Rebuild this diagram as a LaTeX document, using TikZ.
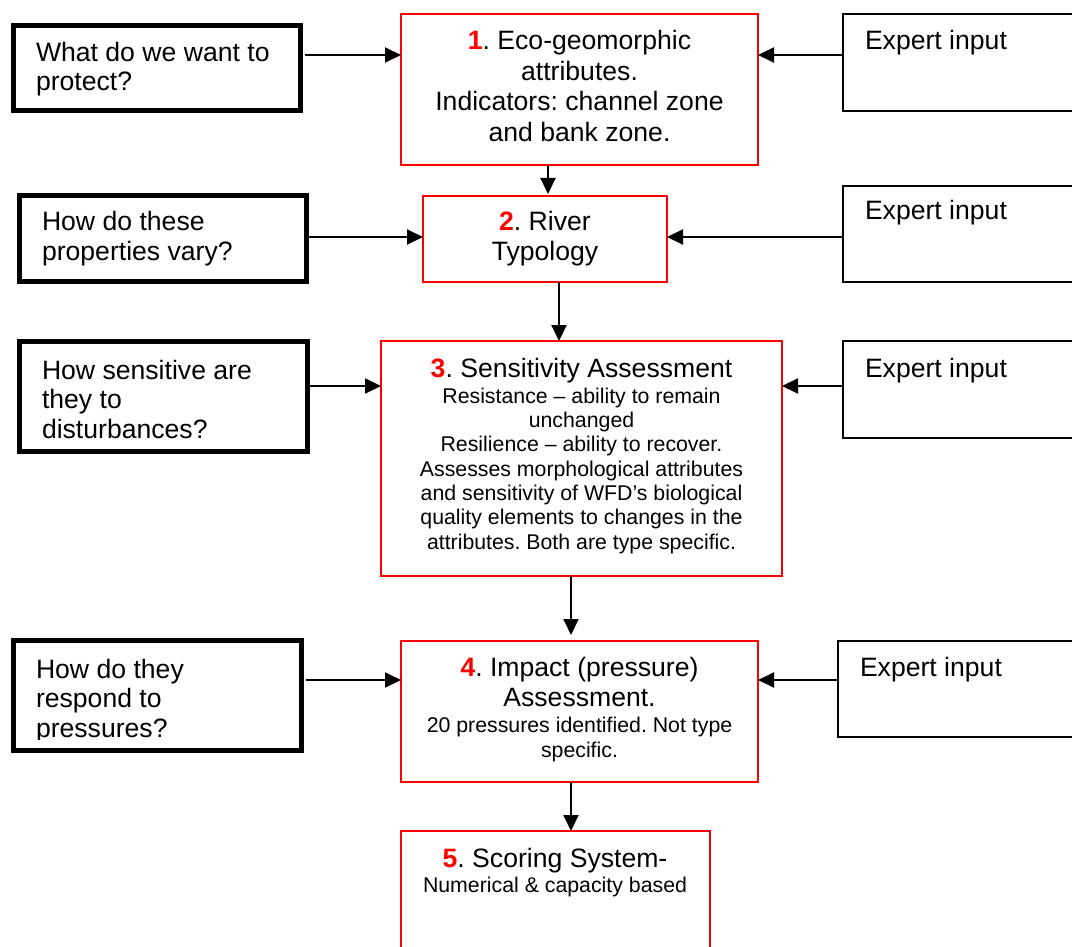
\documentclass[tikz,border=0pt]{standalone}
\usepackage{fontspec}
\setmainfont{Liberation Sans}
\usetikzlibrary{arrows.meta}
\frenchspacing
\newcommand{\rnum}[1]{\textcolor{red}{\textbf{#1}}}
\tikzset{
  lbox/.style={draw=black, line width=5pt, inner sep=0pt, outer sep=0pt},
  ebox/.style={draw=black, line width=2pt, inner sep=0pt, outer sep=0pt},
  cbox/.style={draw=red, line width=2pt, inner sep=0pt, outer sep=0pt},
  arr/.style={line width=2pt, -{Triangle[length=16pt,width=15pt]}},
  big/.style={font=\fontsize{26.6}{30.5}\selectfont, inner sep=0pt, outer sep=0pt},
  small/.style={font=\fontsize{21.3}{24.5}\selectfont, inner sep=0pt, outer sep=0pt},
}
\begin{document}
\begin{tikzpicture}[x=1pt,y=-1pt]
\useasboundingbox (0,0) rectangle (1072,947);
\fill[white] (0,0) rectangle (1072,947);

% left question boxes
\node[lbox, minimum width=287pt, minimum height=85pt] (l1) at (157,68) {};
\node[lbox, minimum width=287pt, minimum height=86pt] (l2) at (163,238.5) {};
\node[lbox, minimum width=288pt, minimum height=110pt] (l3) at (163.5,396.5) {};
\node[lbox, minimum width=288pt, minimum height=110pt] (l4) at (157.5,695.5) {};

% centre boxes
\node[cbox, minimum width=357pt, minimum height=151pt] (c1) at (579.5,89.5) {};
\node[cbox, minimum width=244pt, minimum height=86pt] (c2) at (545,239) {};
\node[cbox, minimum width=401pt, minimum height=235pt] (c3) at (581.5,458.5) {};
\node[cbox, minimum width=357pt, minimum height=141pt] (c4) at (579.5,711.5) {};
\node[cbox, minimum width=309pt, minimum height=129pt] (c5) at (555.5,895.5) {};

% expert boxes
\node[ebox, minimum width=237pt, minimum height=97pt] (r1) at (961.5,62.5) {};
\node[ebox, minimum width=237pt, minimum height=96pt] (r2) at (961.5,234) {};
\node[ebox, minimum width=237pt, minimum height=97pt] (r3) at (961.5,389.5) {};
\node[ebox, minimum width=242pt, minimum height=96pt] (r4) at (959,689) {};

% left texts
\node[big, anchor=base west] (l1a) at (36,62) {What do we want to};
\node[big, anchor=base west] (l1b) at (36,91) {protect?};
\node[big, anchor=base west] (l2a) at (42,231) {How do these};
\node[big, anchor=base west] (l2b) at (42,260) {properties vary?};
\node[big, anchor=base west] (l3a) at (42,379) {How sensitive are};
\node[big, anchor=base west] (l3b) at (42,408) {they to};
\node[big, anchor=base west] (l3c) at (42,438) {disturbances?};
\node[big, anchor=base west] (l4a) at (36,678) {How do they};
\node[big, anchor=base west] (l4b) at (36,707) {respond to};
\begin{scope}
\clip (20,700) rectangle (290,739);
\node[big, anchor=base west] (l4c) at (36,737) {pressures?};
\end{scope}

% expert texts
\node[big, anchor=base west] (r1t) at (865,50) {Expert input};
\node[big, anchor=base west] (r2t) at (865,220) {Expert input};
\node[big, anchor=base west] (r3t) at (865,377) {Expert input};
\node[big, anchor=base west] (r4t) at (860,676) {Expert input};

% centre texts
\node[big, anchor=base] (c1a) at (579.5,50) {\rnum{1}. Eco-geomorphic};
\node[big, anchor=base] (c1b) at (579.5,81) {attributes.};
\node[big, anchor=base] (c1c) at (579.5,111) {Indicators: channel zone};
\node[big, anchor=base] (c1d) at (579.5,142) {and bank zone.};

\node[big, anchor=base] (c2a) at (545,231) {\rnum{2}. River};
\node[big, anchor=base] (c2b) at (545,261) {Typology};

\node[big, anchor=base] (c3a) at (581.5,377) {\rnum{3}. Sensitivity Assessment};
\node[small, anchor=base] (c3b) at (581.5,403) {Resistance – ability to remain};
\node[small, anchor=base] (c3c) at (581.5,427) {unchanged};
\node[small, anchor=base] (c3d) at (581.5,451) {Resilience – ability to recover.};
\node[small, anchor=base] (c3e) at (581.5,476) {Assesses morphological attributes};
\node[small, anchor=base] (c3f) at (581.5,500) {and sensitivity of WFD’s biological};
\node[small, anchor=base] (c3g) at (581.5,524) {quality elements to changes in the};
\node[small, anchor=base] (c3h) at (581.5,549) {attributes. Both are type specific.};

\node[big, anchor=base] (c4a) at (579.5,676) {\rnum{4}. Impact (pressure)};
\node[big, anchor=base] (c4b) at (579.5,706) {Assessment.};
\node[small, anchor=base] (c4c) at (579.5,732) {20 pressures identified. Not type};
\node[small, anchor=base] (c4d) at (579.5,757) {specific.};

\node[big, anchor=base] (c5a) at (555,867) {\rnum{5}. Scoring System-};
\node[small, anchor=base] (c5b) at (555,892) {Numerical \& capacity based};

% helper coordinates for connector positions
\coordinate (h1) at (0,55);
\coordinate (h2) at (0,237);
\coordinate (h3) at (0,386);
\coordinate (h4) at (0,680);
\coordinate (v1) at (548,0);
\coordinate (v2) at (559,0);
\coordinate (v3) at (571,0);

% horizontal connectors
\draw[arr, shorten <=4pt] (l1.east |- h1) -- (c1.west |- h1);
\draw[arr] (r1.west |- h1) -- (c1.east |- h1);
\draw[arr, shorten <=1pt] (l2.east |- h2) -- (c2.west |- h2);
\draw[arr] (r2.west |- h2) -- (c2.east |- h2);
\draw[arr, shorten <=1pt] (l3.east |- h3) -- (c3.west |- h3);
\draw[arr] (r3.west |- h3) -- (c3.east |- h3);
\draw[arr, shorten <=4pt] (l4.east |- h4) -- (c4.west |- h4);
\draw[arr] (r4.west |- h4) -- (c4.east |- h4);

% vertical connectors
\draw[arr, shorten >=2pt] (c1.south -| v1) -- (c2.north -| v1);
\draw[arr] (c2.south -| v2) -- (c3.north -| v2);
\draw[arr, shorten >=6pt] (c3.south -| v3) -- (c4.north -| v3);
\draw[arr] (c4.south -| v3) -- (c5.north -| v3);
\end{tikzpicture}
\end{document}
